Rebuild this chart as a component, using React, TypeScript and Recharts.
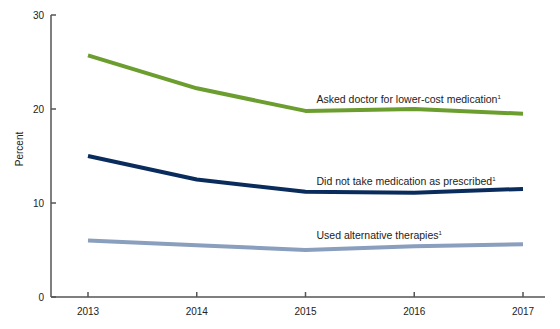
import { LineChart, Line, XAxis, YAxis, LabelList } from 'recharts';

const years = ['2013', '2014', '2015', '2016', '2017'];
const askedDoctor = [25.7, 22.2, 19.8, 20.0, 19.5];
const didNotTake = [15.0, 12.5, 11.2, 11.1, 11.5];
const alternative = [6.0, 5.5, 5.0, 5.4, 5.6];
const yTicks = [0, 10, 20, 30];

const seriesNames = [
  'Asked doctor for lower-cost medication',
  'Did not take medication as prescribed',
  'Used alternative therapies',
];

const data = years.map((year, i) => ({
  year,
  asked: askedDoctor[i],
  notTaken: didNotTake[i],
  alt: alternative[i],
}));

const FONT = '"Liberation Sans", Arial, sans-serif';
const AXIS = '#555';

// label for a line, drawn just right of and above the 2015 point
const seriesLabel = (text: string, dy: number) => (props: any) => {
  const { x, y, index } = props;
  if (index !== 2) return null;
  return (
    <text x={x + 11} y={y + dy} fontSize={10.5} fontFamily={FONT} fill="#222">
      {text}
      <tspan fontSize={6} dy={-4}>1</tspan>
    </text>
  );
};

export default function App() {
  return (
    <div style={{ position: 'absolute', left: 0, top: 0, background: '#fff' }}>
      <LineChart
        width={560}
        height={329}
        data={data}
        margin={{ top: 15, right: 15, bottom: 1, left: 0 }}
      >
        <XAxis
          dataKey="year"
          padding={{ left: 37, right: 22 }}
          height={31}
          tickSize={-5}
          tickMargin={16}
          axisLine={{ stroke: AXIS, strokeWidth: 1.5 }}
          tickLine={{ stroke: AXIS, strokeWidth: 1.5 }}
          tick={{ fontSize: 10, fontFamily: FONT, fill: '#222' }}
        />
        <YAxis
          domain={[0, 30]}
          ticks={yTicks}
          width={51}
          tickSize={-5}
          tickMargin={12}
          axisLine={{ stroke: AXIS, strokeWidth: 1.5 }}
          tickLine={{ stroke: AXIS, strokeWidth: 1.5 }}
          tick={{ fontSize: 10, fontFamily: FONT, fill: '#222' }}
          label={{
            value: 'Percent',
            angle: -90,
            position: 'center',
            dx: -6,
            dy: -7,
            style: { fontSize: 10, fontFamily: FONT, fill: '#222' },
          }}
        />
        <Line
          dataKey="asked"
          stroke="#6b9e2f"
          strokeWidth={4}
          strokeLinejoin="round"
          dot={false}
          isAnimationActive={false}
        >
          <LabelList dataKey="asked" content={seriesLabel(seriesNames[0], -8)} />
        </Line>
        <Line
          dataKey="notTaken"
          stroke="#0a2c5c"
          strokeWidth={4}
          strokeLinejoin="round"
          dot={false}
          isAnimationActive={false}
        >
          <LabelList dataKey="notTaken" content={seriesLabel(seriesNames[1], -7)} />
        </Line>
        <Line
          dataKey="alt"
          stroke="#8a9fbd"
          strokeWidth={4}
          strokeLinejoin="round"
          dot={false}
          isAnimationActive={false}
        >
          <LabelList dataKey="alt" content={seriesLabel(seriesNames[2], -11)} />
        </Line>
      </LineChart>
    </div>
  );
}
